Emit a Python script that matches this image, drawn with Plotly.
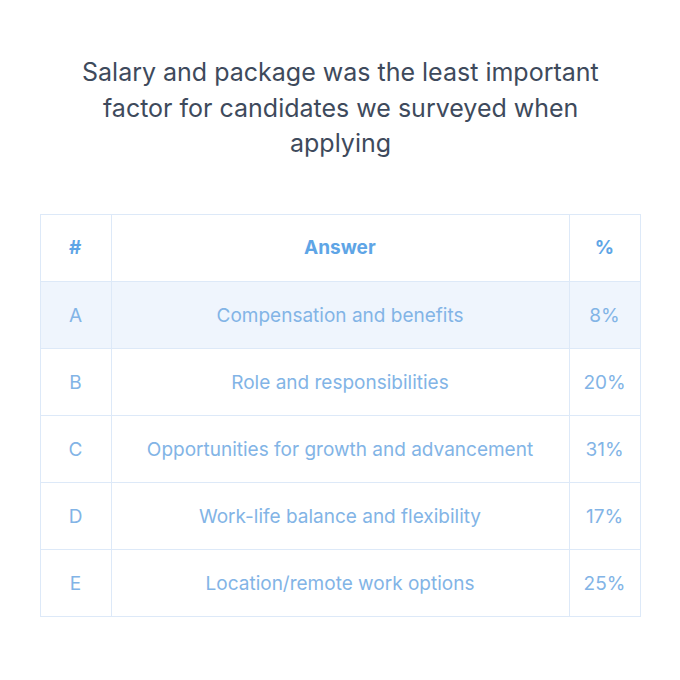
import plotly.graph_objects as go

letters = ['A', 'B', 'C', 'D', 'E']
answers = ['Compensation and benefits',
           'Role and responsibilities',
           'Opportunities for growth and advancement',
           'Work-life balance and flexibility',
           'Location/remote work options']
shares = [8, 20, 31, 17, 25]
headers = ['#', 'Answer', '%']

title_lines = ['Salary and package was the least important',
               'factor for candidates we surveyed when',
               'applying']

W = 680
OFF = 8           # page margin of the browser around the plot div
TOP = 214 - OFF   # top edge of the table
ROW_H = 67
SHIFT_HEAD = 14   # pushes header text to the middle of its row
SHIFT_CELL = 19   # same for the body rows
border = '#dde9f8'
row_fill = ['#eff5fd', 'white', 'white', 'white', 'white']
col_w = [71, 458, 71]
x_dom = [(40 - OFF) / W, (640 - OFF) / W]

pct = ['%d%%' % s for s in shares]
head_font = dict(family='Inter', size=19, color='#5ea5e6')
cell_font = dict(family='Inter', size=19, color='#82b4e6')
clear = 'rgba(0,0,0,0)'

fig = go.Figure()

# grid, borders and fills
fig.add_trace(go.Table(
    domain=dict(x=x_dom, y=[0, 1 - TOP / W]),
    columnwidth=col_w,
    header=dict(values=[''] * 3, fill_color='white', line_color=border,
                height=ROW_H),
    cells=dict(values=[[''] * 5] * 3, fill_color=[row_fill] * 3,
               line_color=border, height=ROW_H)
))

# text layer, same table moved down a little
fig.add_trace(go.Table(
    domain=dict(x=x_dom, y=[0, 1 - (TOP + SHIFT_HEAD) / W]),
    columnwidth=col_w,
    header=dict(values=['<b>%s</b>' % h for h in headers],
                fill_color=clear, line_color=clear, align='center',
                height=ROW_H + SHIFT_CELL - SHIFT_HEAD, font=head_font),
    cells=dict(values=[letters, answers, pct],
               fill_color=clear, line_color=clear, align='center',
               height=ROW_H, font=cell_font)
))

for i, line in enumerate(title_lines):
    fig.add_annotation(text=line, xref='paper', yref='paper',
                       x=(340 - OFF) / W, y=1 - (72 + 35.5 * i - OFF) / W,
                       xanchor='center', yanchor='middle', showarrow=False,
                       font=dict(family='Inter', size=25, color='#3e4a5c'))

fig.update_layout(
    width=W, height=W,
    margin=dict(l=0, r=0, t=0, b=0),
    paper_bgcolor='white',
)

fig.write_html('out.html')
